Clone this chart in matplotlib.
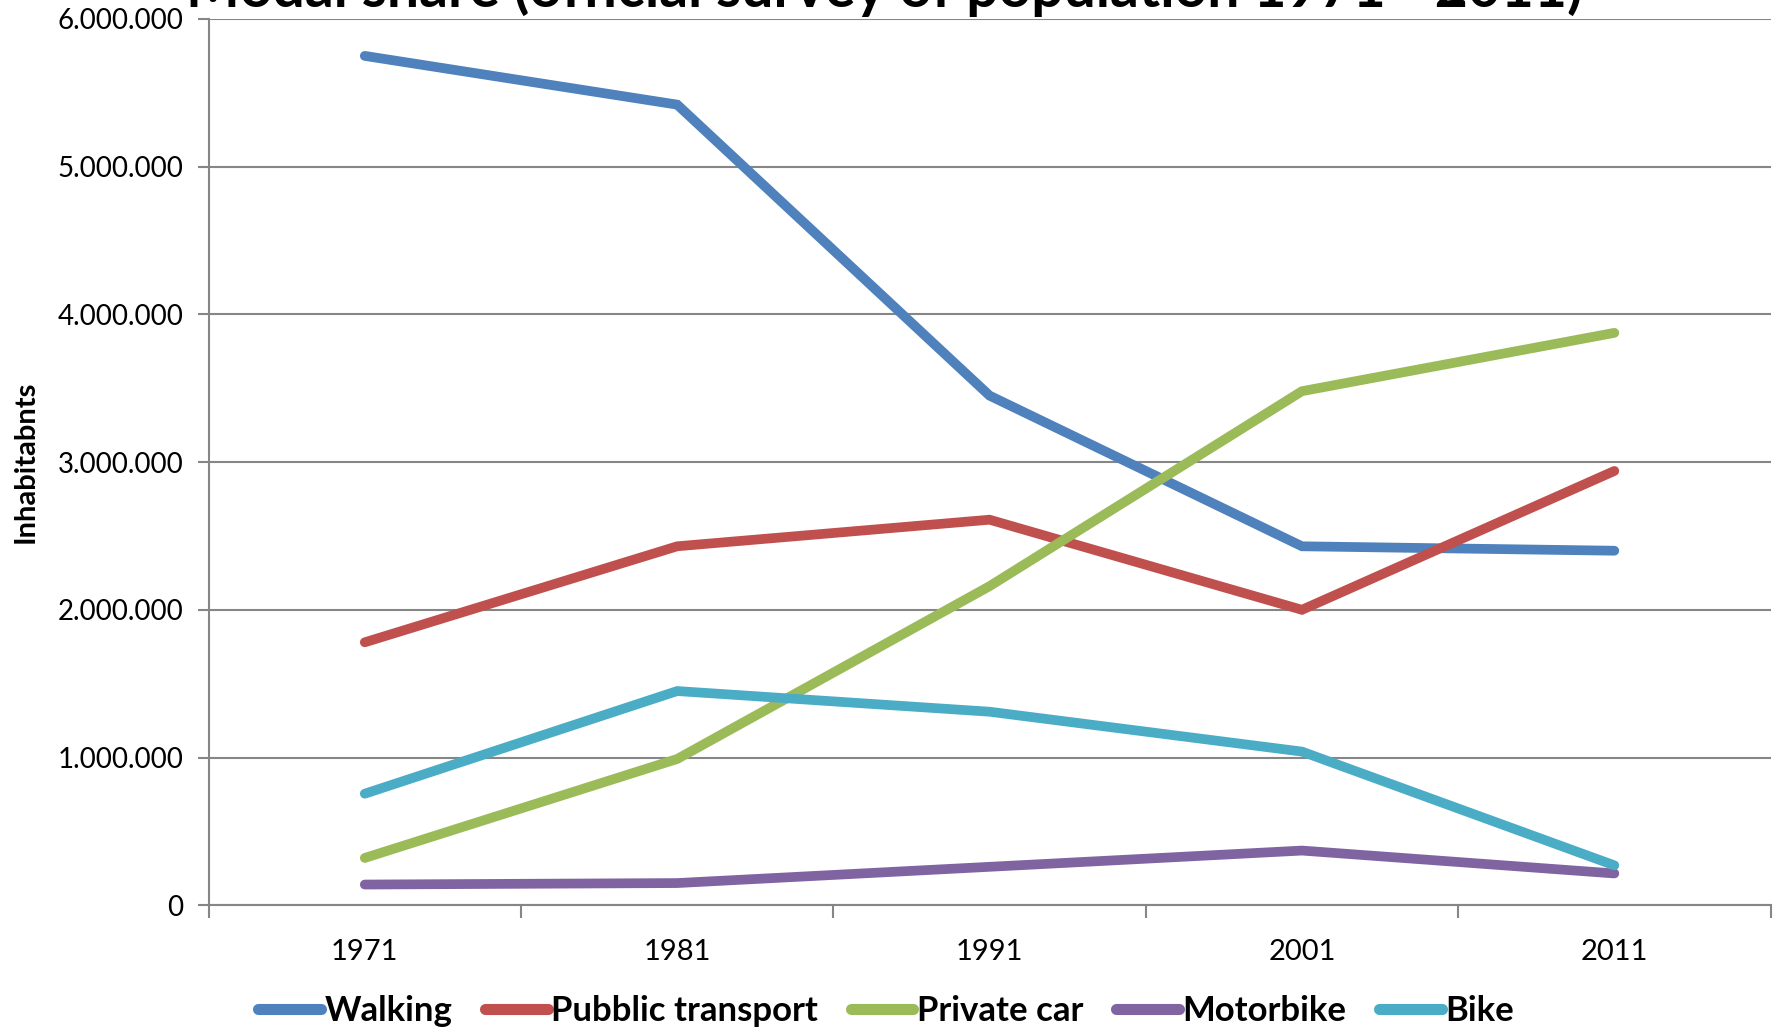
import numpy as np
import matplotlib.pyplot as plt
from matplotlib.ticker import FuncFormatter, FixedLocator

years = ["1971", "1981", "1991", "2001", "2011"]
walking = [5750000, 5420000, 3450000, 2430000, 2400000]
public_transport = [1780000, 2430000, 2610000, 2000000, 2940000]
private_car = [320000, 990000, 2160000, 3480000, 3875000]
motorbike = [140000, 150000, 260000, 370000, 215000]
bike = [755000, 1450000, 1310000, 1040000, 270000]

series = [
    ("Walking", walking, "#4F81BD"),
    ("Pubblic transport", public_transport, "#C0504D"),
    ("Private car", private_car, "#9BBB59"),
    ("Motorbike", motorbike, "#8064A2"),
    ("Bike", bike, "#4BACC6"),
]

plt.rcParams["font.family"] = ["Lato", "DejaVu Sans"]

fig = plt.figure(figsize=(17.83, 10.31), dpi=100)
ax = fig.add_axes([0.117, 0.122, 0.876, 0.8596])

x = np.arange(len(years))
for label, vals, color in series:
    ax.plot(x, vals, color=color, lw=7, label=label,
            solid_capstyle="round", solid_joinstyle="miter")

ax.set_xlim(-0.5, len(years) - 0.5)
ax.set_ylim(0, 6000000)
ax.set_yticks(np.arange(0, 6000001, 1000000))
ax.yaxis.set_major_formatter(FuncFormatter(lambda v, p: f"{int(v):,}".replace(",", ".")))

# category ticks between labels, labels centred
ax.xaxis.set_major_locator(FixedLocator(np.arange(-0.5, len(years), 1.0)))
ax.xaxis.set_minor_locator(FixedLocator(x))
ax.set_xticklabels([""] * len(ax.get_xticks()))
ax.set_xticklabels(years, minor=True)
ax.tick_params(axis="x", which="major", length=9, width=1.5, color="#868686")
ax.tick_params(axis="x", which="minor", length=0, labelsize=21, pad=24)
ax.tick_params(axis="y", length=8, width=1.5, color="#868686", labelsize=20, pad=10)

ax.grid(axis="y", color="#868686", lw=1.5)
ax.set_axisbelow(True)
for s in ["top", "right"]:
    ax.spines[s].set_visible(False)
for s in ["left", "bottom"]:
    ax.spines[s].set_color("#868686")
    ax.spines[s].set_linewidth(1.5)

ax.set_ylabel("Inhabitabnts", fontsize=21, fontweight="bold", labelpad=14)

# title sits mostly above the canvas, as in the source image
fig.text(0.496, 0.993, "Modal share (official survey of population 1971 - 2011)",
         ha="center", va="baseline", fontsize=41, fontweight="bold")

leg = fig.legend(loc="center", bbox_to_anchor=(0.497, 0.019), ncol=5, frameon=False,
                 prop={"size": 25, "weight": "bold"}, handlelength=1.8,
                 handletextpad=0.1, columnspacing=0.95)
for h in leg.get_lines():
    h.set_linewidth(8)

fig.savefig("out.png", dpi=100)
